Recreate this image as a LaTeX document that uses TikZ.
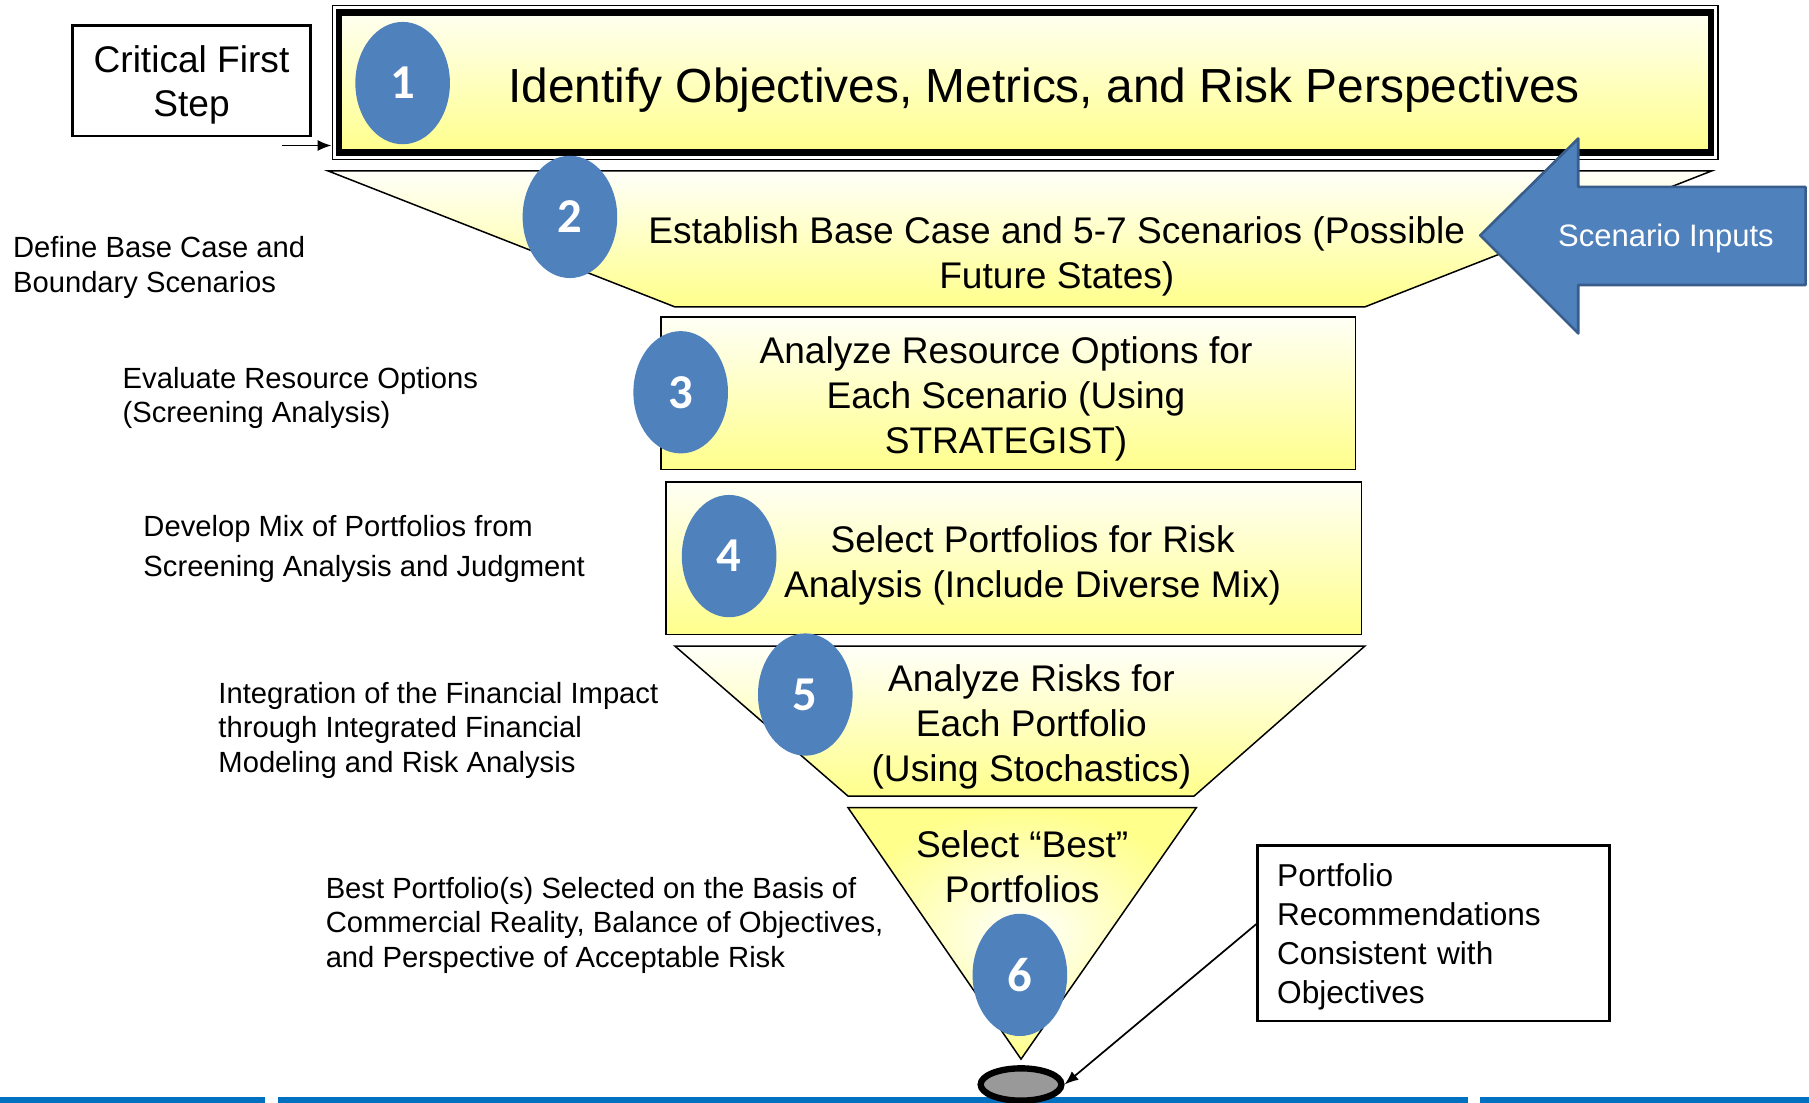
\documentclass[tikz,border=0pt]{standalone}
\usepackage{fontspec}
\setmainfont{Liberation Sans}
\newfontfamily\numfont{Carlito}
\usetikzlibrary{arrows.meta,shapes.geometric}
\definecolor{stepblue}{RGB}{79,129,189}
\definecolor{stepedge}{RGB}{56,93,138}
\definecolor{funnelyellow}{RGB}{255,255,140}
\definecolor{bandblue}{RGB}{0,112,192}
\newcommand{\fsz}[2]{\fontsize{#1}{#2}\selectfont}

\begin{document}
\begin{tikzpicture}[
    x=0.2mm,y=-0.2mm,
    stagebox/.style={rectangle,draw=black,line width=0.3mm,top color=funnelyellow!8!white,
      bottom color=funnelyellow,inner sep=0pt},
    stagefill/.style={draw=black,line width=0.26mm,top color=funnelyellow!5!white,
      bottom color=funnelyellow},
    steptext/.style={align=center,font=\fsz{18.3}{22.2}},
    stepnum/.style={ellipse,fill=stepblue,minimum width=16.4mm,minimum height=21.2mm,
      inner sep=0pt,text=white,font=\numfont\bfseries\fsz{24}{24}},
    sidenote/.style={anchor=west,align=left,inner sep=0pt,font=\fsz{14.4}{17.1}},
    notebox/.style={rectangle,draw=black,line width=0.45mm,fill=white},
    arrow/.style={-{Latex[length=2.4mm,width=1.9mm]},line width=0.3mm}
  ]
    \useasboundingbox (0,0) rectangle (1568,956);

    % bottom band
    \fill[bandblue] (0,951) rectangle (1568,956);
    \fill[white] (230,951) rectangle (241,956);
    \fill[white] (1272,951) rectangle (1283,956);

    % funnel stages
    \node[rectangle,draw=black,line width=0.25mm,minimum width=240.2mm,minimum height=26.6mm] (box1) at (888.5,71.5) {};
    \draw[line width=1.1mm,top color=funnelyellow!12!white,bottom color=funnelyellow]
      ([shift={(6.5,6.5)}]box1.north west) rectangle ([shift={(-6.5,-6.5)}]box1.south east);
    \filldraw[stagefill] (284,148) -- (1484,148) -- (1183,266) -- (585,266) -- cycle;
    \node[stagebox,minimum width=120.4mm,minimum height=26.4mm] (box3) at (874,341) {};
    \node[stagebox,minimum width=120.6mm,minimum height=26.4mm] (box4) at (878.5,484) {};
    \filldraw[stagefill] (585,560) -- (1183,560) -- (1035,690) -- (735,690) -- cycle;
    \filldraw[draw=black,line width=0.26mm,inner color=white,outer color=funnelyellow]
      (735,700) -- (1037,700) -- (885,918) -- cycle;

    \node[steptext,font=\fsz{23.6}{28}] (t1) at (905,78) {Identify Objectives, Metrics, and Risk Perspectives};
    \node[steptext] (t2) at (916,222) {Establish Base Case and 5-7 Scenarios (Possible\\Future States)};
    \node[steptext] (t3) at (872,346) {Analyze Resource Options for\\Each Scenario (Using\\STRATEGIST)};
    \node[steptext] (t4) at (895,490) {Select Portfolios for Risk\\Analysis (Include Diverse Mix)};
    \node[steptext] (t5) at (894,630) {Analyze Risks for\\Each Portfolio\\(Using Stochastics)};
    \node[steptext] (t6) at (886,751) {Select “Best”\\Portfolios};

    \foreach \n/\cx/\cy in {1/349/72,2/494/188,3/590/340,4/632/482,5/698/602,6/884/845}
      \node[stepnum] (num\n) at (\cx,\cy) {\n};

    % notes on the left
    \node[sidenote] (note2) at (11,232) {Define Base Case and\\Boundary Scenarios};
    \node[sidenote] (note3) at (106,345) {Evaluate Resource Options\\(Screening Analysis)};
    \node[sidenote,font=\fsz{14.4}{19.5}] (note4) at (124,476) {Develop Mix of Portfolios from\\Screening Analysis and Judgment};
    \node[sidenote] (note5) at (189,633) {Integration of the Financial Impact\\through Integrated Financial\\Modeling and Risk Analysis};
    \node[sidenote] (note6) at (282,802) {Best Portfolio(s) Selected on the Basis of\\Commercial Reality, Balance of Objectives,\\and Perspective of Acceptable Risk};

    \node[notebox,minimum width=41.2mm,minimum height=19.2mm,align=center,font=\fsz{18.3}{21.6}] (crit) at (166,70) {\rule{0pt}{6mm}Critical First\\Step};
    \coordinate (critfoot) at ([shift={(-26,7)}]crit.south east);
    \draw[arrow] (critfoot) -- (critfoot -| box1.west);

    % scenario inputs arrow
    \filldraw[fill=stepblue,draw=stepedge,line width=0.45mm,line join=round]
      (1283,204) -- (1368,120) -- (1368,162) -- (1565,162) -- (1565,247) -- (1368,247) -- (1368,289) -- cycle;
    \node[text=white,font=\fsz{15.3}{18}] (inputs) at (1444,207) {Scenario Inputs};

    % outcome
    \node[ellipse,draw=black,line width=1.1mm,fill=black!40,minimum width=14mm,minimum height=5.6mm] (outcome) at (885,940) {};
    \node[notebox,text width=54.2mm,inner xsep=3.4mm,minimum height=30.4mm,align=left,font=\fsz{15.6}{19.2}] (recs) at (1242.5,809) {\rule{0pt}{5.2mm}Portfolio\\Recommendations\\Consistent with\\Objectives};
    \draw[arrow] ([shift={(0,-8)}]recs.west) -- (outcome.east);
  \end{tikzpicture}
\end{document}
